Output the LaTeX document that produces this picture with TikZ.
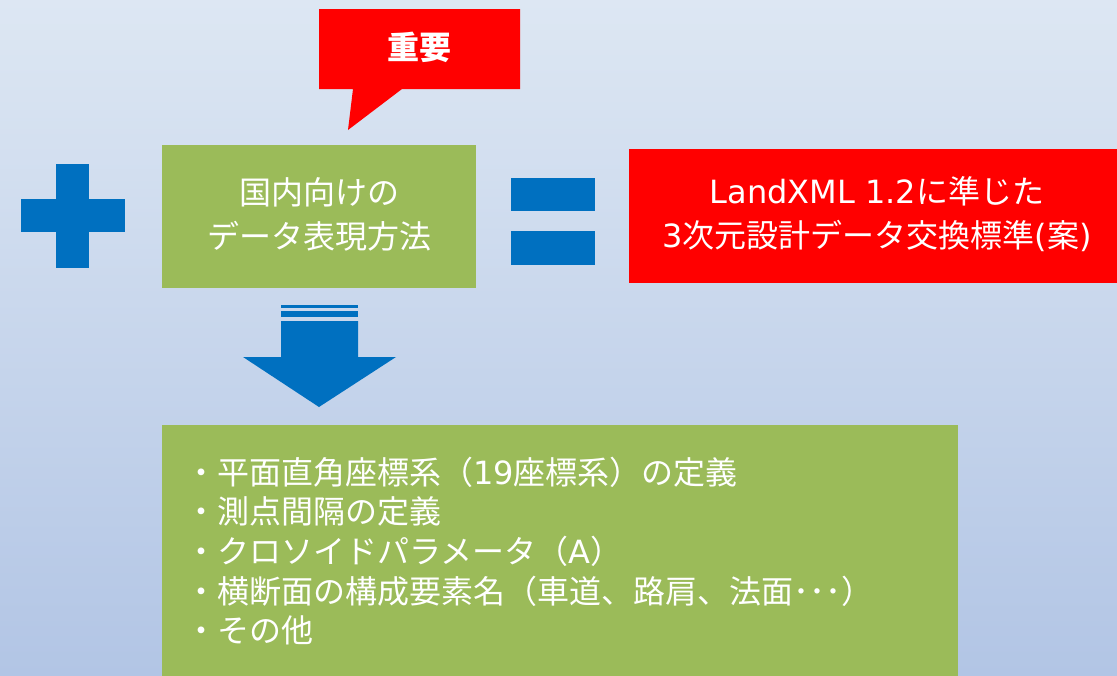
\documentclass[tikz,border=0pt]{standalone}
\usepackage{fontspec}
\newfontfamily\jp{Noto Sans CJK JP}
\newfontfamily\lat{DejaVu Sans}
\definecolor{bgtop}{RGB}{221,231,243}
\definecolor{bgbot}{RGB}{178,197,229}
\definecolor{mygreen}{RGB}{155,187,89}
\definecolor{myblue}{RGB}{0,112,192}
\definecolor{myred}{RGB}{255,0,0}
\newcommand{\lt}[1]{{\lat #1}}
\tikzset{
  greenbox/.style={fill=mygreen, draw=none, inner sep=0pt},
  redbox/.style={fill=myred, draw=none, inner sep=0pt},
  bluesym/.style={fill=myblue, draw=none},
  wtext/.style={text=white, font=\jp\fontsize{24}{33}\selectfont, align=center, inner sep=0pt},
}
\begin{document}
\begin{tikzpicture}[x=0.75pt,y=-0.75pt]
\useasboundingbox (0,0) rectangle (1117,675);
\clip (0,0) rectangle (1117,675);
\shade[top color=bgtop, bottom color=bgbot] (0,0) rectangle (1117,675);

% plus
\fill[bluesym] (56,164) rectangle (89,268);
\fill[bluesym] (21,199) rectangle (125,232);

% green box 1
\node[greenbox, minimum width=235.5pt, minimum height=107.25pt] (gbox) at (319,216.5) {};
\node[wtext] (gtext) at (319,214) {国内向けの\\データ表現方法};

% equals
\fill[bluesym] (511,178) rectangle (595,211);
\fill[bluesym] (511,231) rectangle (595,265);

% red box
\node[redbox, minimum width=375pt, minimum height=100.5pt] (rbox) at (879,216) {};
\node[wtext] (rtext) at (877,214) {\lt{LandXML 1.2}に準じた\\\lt{3}次元設計データ交換標準\lt{(}案\lt{)}};

% callout
\fill[myred] (319,9) -- (520,9) -- (520,89) -- (402,89) -- (348,130) -- (353,89) -- (319,89) -- cycle;
\node[text=white, font=\jp\bfseries\fontsize{24}{30}\selectfont, inner sep=0pt] (imp) at (419.5,47) {重要};

% down arrow
\fill[bluesym] (281,305) rectangle (358,308);
\fill[bluesym] (281,311) rectangle (358,317);
\fill[bluesym] (281,321) -- (358,321) -- (358,357) -- (396,357) -- (319,407) -- (243,357) -- (281,357) -- cycle;

% big green box
\node[greenbox, minimum width=597pt, minimum height=195pt] (lbox) at (560,555) {};
\node[text=white, font=\jp\fontsize{24}{29.7}\selectfont, align=left, inner sep=0pt, anchor=west] (ltext) at (185,551)
  {・平面直角座標系（\lt{19}座標系）の定義\\
   ・測点間隔の定義\\
   ・クロソイドパラメータ（\lt{A}）\\
   ・横断面の構成要素名（車道、路肩、法面･･･）\\
   ・その他};
\end{tikzpicture}
\end{document}
